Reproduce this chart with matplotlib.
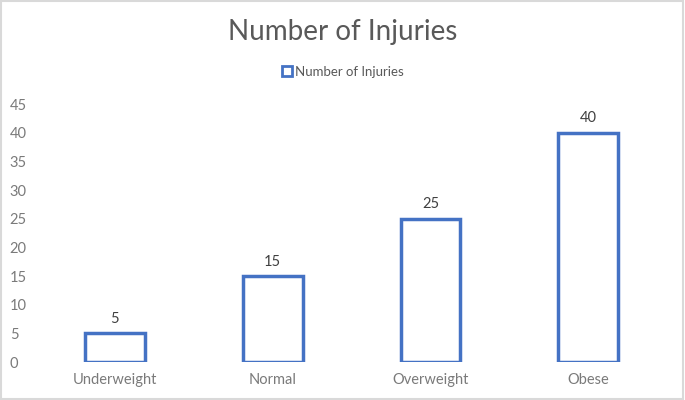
import matplotlib
matplotlib.use("Agg")
import matplotlib.pyplot as plt
from matplotlib.lines import Line2D
import numpy as np

categories = ["Underweight", "Normal", "Overweight", "Obese"]
injuries = [5, 15, 25, 40]

plt.rcParams['font.family'] = ['Lato', 'DejaVu Sans']
blue = "#4472C4"
grey = "#595959"
tick_grey = "#7A7A7A"

fig = plt.figure(figsize=(6.85, 4.0), dpi=100)
ax = fig.add_axes([0.0526, 0.095, 0.9214, 0.645])

x = np.arange(len(categories))
ax.bar(x, injuries, width=0.38, facecolor="white", edgecolor=blue, linewidth=2.5)
for xi, v in zip(x, injuries):
    ax.text(xi, v + 1.3, str(v), ha="center", va="bottom", fontsize=10.5, color="#404040")

ax.set_xlim(-0.5, len(categories) - 0.5)
ax.set_ylim(0, 45)
ax.set_yticks(range(0, 46, 5))
ax.set_xticks(x)
ax.set_xticklabels(categories)
ax.tick_params(axis="both", length=0, labelsize=10.5, labelcolor=tick_grey)
ax.tick_params(axis="x", pad=8)
ax.tick_params(axis="y", pad=19)
for s in ax.spines.values():
    s.set_visible(False)
for lab in ax.get_yticklabels():
    lab.set_horizontalalignment("left")

fig.text(0.5, 0.92, "Number of Injuries", ha="center", va="center", fontsize=20, color=grey)
handle = Line2D([], [], marker="s", linestyle="none", markersize=7,
                markerfacecolor="white", markeredgecolor=blue, markeredgewidth=2)
fig.legend([handle], ["Number of Injuries"], loc="center", bbox_to_anchor=(0.5, 0.82),
           frameon=False, fontsize=9.5, labelcolor=grey, handletextpad=0.1, handlelength=1)

# light frame around the chart area
fig.add_artist(plt.Rectangle((0.002, 0.003), 0.995, 0.994, transform=fig.transFigure,
                             fill=False, edgecolor="#D9D9D9", linewidth=1.5))

fig.savefig("out.png", dpi=100)
